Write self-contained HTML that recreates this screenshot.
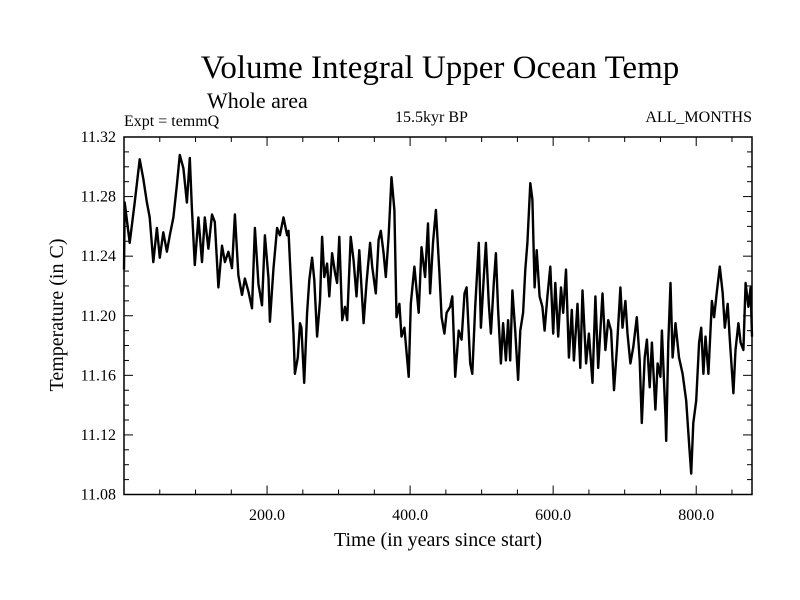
<!DOCTYPE html>
<html><head><meta charset="utf-8"><style>
html,body{margin:0;padding:0;background:#fff;}
svg{display:block;font-family:"Liberation Serif",serif;}
</style></head><body>
<svg id="chart" width="800" height="600" viewBox="0 0 800 600" xmlns="http://www.w3.org/2000/svg">
<rect width="800" height="600" fill="#fff"/>
<text x="440" y="78" font-size="33" text-anchor="middle">Volume Integral Upper Ocean Temp</text>
<text x="207" y="108" font-size="22">Whole area</text>
<text x="124" y="126" font-size="16">Expt = temmQ</text>
<text x="395" y="122" font-size="16">15.5kyr BP</text>
<text x="752" y="122" font-size="16" text-anchor="end">ALL_MONTHS</text>
<text x="438" y="546" font-size="20" text-anchor="middle">Time (in years since start)</text>
<text transform="translate(63,315) rotate(-90)" font-size="20" text-anchor="middle">Temperature (in C)</text>
<g id="axes"></g>
<g id="series"></g>
</svg>
<script>
const years=[0,1,8,15,22,27,32,36,41,46,50,55,60,64,69,74,78,83,88,92,95,99,104,109,113,118,123,127,132,137,141,146,151,155,160,165,169,174,179,183,188,193,197,202,204,209,214,218,223,228,230,232,237,239,243,246,248,252,256,259,263,266,270,274,277,280,284,287,291,295,298,301,305,309,312,317,321,325,329,335,339,344,347,352,356,359,363,366,370,374,378,381,385,388,392,398,401,406,412,416,421,425,428,432,436,441,444,448,451,456,459,463,468,472,476,479,484,487,491,496,499,503,506,510,513,517,520,523,527,530,534,537,540,543,547,551,554,558,561,564,568,571,574,577,581,585,588,592,596,600,603,607,611,614,618,622,626,629,634,638,641,646,650,655,659,663,669,673,677,681,685,689,694,697,701,704,708,712,717,721,724,728,731,735,738,743,746,750,752,757,758,761,764,767,771,776,781,786,790,793,796,800,804,807,810,813,817,822,825,829,833,837,840,844,847,852,855,859,862,866,869,873,876,878];
const temps=[11.231,11.276,11.249,11.276,11.305,11.292,11.276,11.266,11.236,11.259,11.239,11.256,11.243,11.254,11.266,11.288,11.308,11.299,11.276,11.306,11.272,11.234,11.266,11.236,11.266,11.245,11.268,11.263,11.219,11.247,11.236,11.243,11.232,11.268,11.227,11.214,11.225,11.216,11.205,11.259,11.221,11.207,11.254,11.225,11.196,11.232,11.259,11.254,11.266,11.254,11.257,11.237,11.188,11.161,11.172,11.195,11.192,11.155,11.202,11.224,11.239,11.224,11.186,11.210,11.253,11.226,11.235,11.213,11.242,11.229,11.222,11.253,11.197,11.206,11.197,11.253,11.237,11.213,11.244,11.195,11.222,11.249,11.233,11.215,11.251,11.257,11.242,11.226,11.253,11.293,11.271,11.199,11.208,11.186,11.192,11.159,11.208,11.233,11.202,11.246,11.226,11.262,11.215,11.249,11.271,11.229,11.199,11.188,11.202,11.206,11.213,11.159,11.190,11.184,11.215,11.219,11.168,11.161,11.206,11.249,11.192,11.226,11.249,11.208,11.188,11.222,11.242,11.204,11.168,11.195,11.170,11.197,11.170,11.217,11.190,11.157,11.190,11.202,11.231,11.249,11.289,11.278,11.219,11.244,11.213,11.206,11.190,11.213,11.233,11.188,11.222,11.186,11.219,11.202,11.231,11.172,11.204,11.170,11.208,11.165,11.217,11.168,11.188,11.155,11.213,11.165,11.215,11.177,11.197,11.190,11.150,11.177,11.219,11.192,11.210,11.188,11.168,11.179,11.199,11.170,11.128,11.172,11.184,11.152,11.182,11.137,11.168,11.159,11.190,11.132,11.116,11.182,11.222,11.172,11.195,11.172,11.161,11.143,11.114,11.094,11.128,11.143,11.182,11.192,11.161,11.186,11.161,11.210,11.199,11.217,11.233,11.215,11.192,11.208,11.184,11.148,11.177,11.195,11.182,11.177,11.222,11.206,11.219,11.186];
const yTicks=[11.08,11.12,11.16,11.20,11.24,11.28,11.32];
const yTickLabels=["11.08","11.12","11.16","11.20","11.24","11.28","11.32"];
const xTicks=[200,400,600,800];
const xTickLabels=["200.0","400.0","600.0","800.0"];

const L=124,R=752,T=137,B=494.5;
const X0=0,X1=878,Y0=11.08,Y1=11.32;
function sx(v){return L+(v-X0)/(X1-X0)*(R-L);}
function sy(v){return B-(v-Y0)/(Y1-Y0)*(B-T);}
const NS="http://www.w3.org/2000/svg";
const axes=document.getElementById('axes');
function mk(tag,attrs,parent){const e=document.createElementNS(NS,tag);for(const k in attrs)e.setAttribute(k,attrs[k]);parent.appendChild(e);return e;}

const frame=mk('rect',{x:L,y:T,width:R-L,height:B-T,fill:'none',stroke:'#000','stroke-width':1.5},axes);



for(let i=0;i<=24;i++){
  const v=Y0+i*0.01, y=sy(v), len=(i%4===0)?9:5;
  const t1=mk('line',{x1:L,x2:L+len,y1:y,y2:y,stroke:'#000','stroke-width':1},axes);
  
  
  const t2=mk('line',{x1:R,x2:R-len,y1:y,y2:y,stroke:'#000','stroke-width':1},axes);
  
  
}
yTicks.forEach((v,i)=>{
  const t=mk('text',{x:L-8,y:sy(v)+5,'font-size':16,'text-anchor':'end'},axes);
  t.textContent=yTickLabels[i];
  
  
});
for(let v=50;v<X1;v+=50){
  const x=sx(v), len=(v%200===0)?9:5;
  const t1=mk('line',{x1:x,x2:x,y1:B,y2:B-len,stroke:'#000','stroke-width':1},axes);
  
  
  const t2=mk('line',{x1:x,x2:x,y1:T,y2:T+len,stroke:'#000','stroke-width':1},axes);
  
  
}
xTicks.forEach((v,i)=>{
  const t=mk('text',{x:sx(v),y:520,'font-size':16,'text-anchor':'middle'},axes);
  t.textContent=xTickLabels[i];
  
  
});

const d=years.map((yr,i)=>(i?'L':'M')+sx(yr).toFixed(1)+' '+sy(temps[i]).toFixed(1)).join(' ');
const line=mk('path',{d:d,fill:'none',stroke:'#000','stroke-width':2.4,'stroke-linejoin':'round'},document.getElementById('series'));


</script>
</body></html>
